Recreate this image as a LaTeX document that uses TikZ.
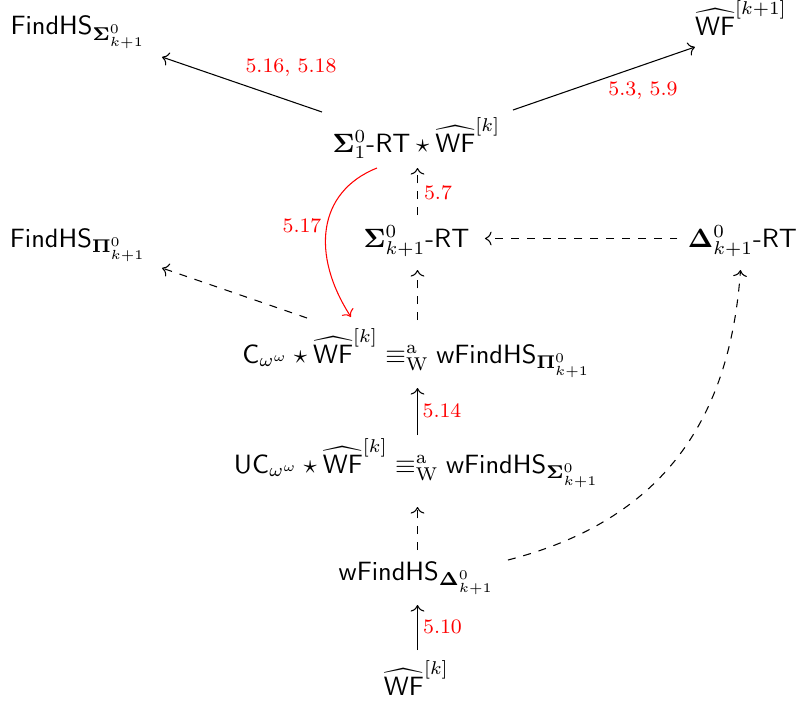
\documentclass[tikz,border=0pt]{standalone}
\usepackage{amsmath,amssymb,graphicx}
\usetikzlibrary{arrows.meta}
\newcommand{\lbtext}[1]{\scalebox{0.97}{#1}}
\begin{document}
\begin{tikzpicture}[x=0.378pt,y=-0.378pt,
  obj/.style={anchor=base, inner sep=0pt},
  lbl/.style={text=red, font=\footnotesize, inner sep=0pt},
  arr/.style={-{Computer Modern Rightarrow}, line width=0.4pt},
  darr/.style={arr, dashed}]
\useasboundingbox (0,0) rectangle (797,702);
% nodes
\node[obj] (fs)  at (78,34.5) {$\mathsf{FindHS}_{\mathbf{\Sigma}^0_{k+1}}$};
\node[obj] (wf1) at (741,35) {$\widehat{\mathsf{WF}}^{[k+1]}$};
\node[obj] (top) at (416.5,152) {$\mathbf{\Sigma}^0_1\textsf{-}\mathsf{RT}\star\widehat{\mathsf{WF}}^{[k]}$};
\node[obj] (fp)  at (78,247) {$\mathsf{FindHS}_{\mathbf{\Pi}^0_{k+1}}$};
\node[obj] (srt) at (416.5,247) {$\mathbf{\Sigma}^0_{k+1}\textsf{-}\mathsf{RT}$};
\node[obj] (drt) at (742.5,247) {$\mathbf{\Delta}^0_{k+1}\textsf{-}\mathsf{RT}$};
\node[obj] (c)   at (416.5,363) {$\mathsf{C}_{\omega^\omega}\star\widehat{\mathsf{WF}}^{[k]}\equiv^{\mathrm{a}}_{\mathrm{W}}\mathsf{wFindHS}_{\mathbf{\Pi}^0_{k+1}}$};
\node[obj] (uc)  at (416.5,473) {$\mathsf{UC}_{\omega^\omega}\star\widehat{\mathsf{WF}}^{[k]}\equiv^{\mathrm{a}}_{\mathrm{W}}\mathsf{wFindHS}_{\mathbf{\Sigma}^0_{k+1}}$};
\node[obj] (wd)  at (416.5,580) {$\mathsf{wFindHS}_{\mathbf{\Delta}^0_{k+1}}$};
\node[obj] (wf)  at (416.5,695) {$\widehat{\mathsf{WF}}^{[k]}$};
% connectors
\draw[arr] ([shift={(-94.5,-40)}]top.base) -- node[lbl,shift={(49,-16.5)}]{\lbtext{5.16, 5.18}} ([shift={(84,22.5)}]fs.base);
\draw[arr] ([shift={(96.5,-42)}]top.base) -- node[lbl,shift={(39,12.5)}]{\lbtext{5.3, 5.9}} ([shift={(-46,12)}]wf1.base);
\draw[darr] ([shift={(1,-32)}]srt.base) -- node[lbl,shift={(20.5,1)}]{\lbtext{5.7}} ([shift={(1,16)}]top.base);
\draw[darr] ([shift={(-65,-8.5)}]drt.base) -- ([shift={(68.5,-8.5)}]srt.base);
\draw[darr] ([shift={(-109.5,-45)}]c.base) -- ([shift={(84,21)}]fp.base);
\draw[darr] ([shift={(1,-43)}]c.base) -- ([shift={(1,23)}]srt.base);
\draw[arr,red] ([shift={(-39.5,16)}]top.base) .. controls +(-60,24) and +(-40,-62) .. node[lbl,shift={(-24.5,-2.2)}]{\lbtext{5.17}} ([shift={(-65.5,-46)}]c.base);
\draw[arr] ([shift={(1,-38)}]uc.base) -- node[lbl,shift={(24.5,-0.5)}]{\lbtext{5.14}} ([shift={(1,25)}]c.base);
\draw[darr] ([shift={(1,-30)}]wd.base) -- ([shift={(1,34)}]uc.base);
\draw[darr] ([shift={(91.5,-20)}]wd.base) .. controls +(145.5,-37.5) and +(-11.2,160) .. ([shift={(-2,23)}]drt.base);
\draw[arr] ([shift={(1,-45)}]wf.base) -- node[lbl,shift={(25,-0.5)}]{\lbtext{5.10}} ([shift={(1,25)}]wd.base);
\end{tikzpicture}
\end{document}
